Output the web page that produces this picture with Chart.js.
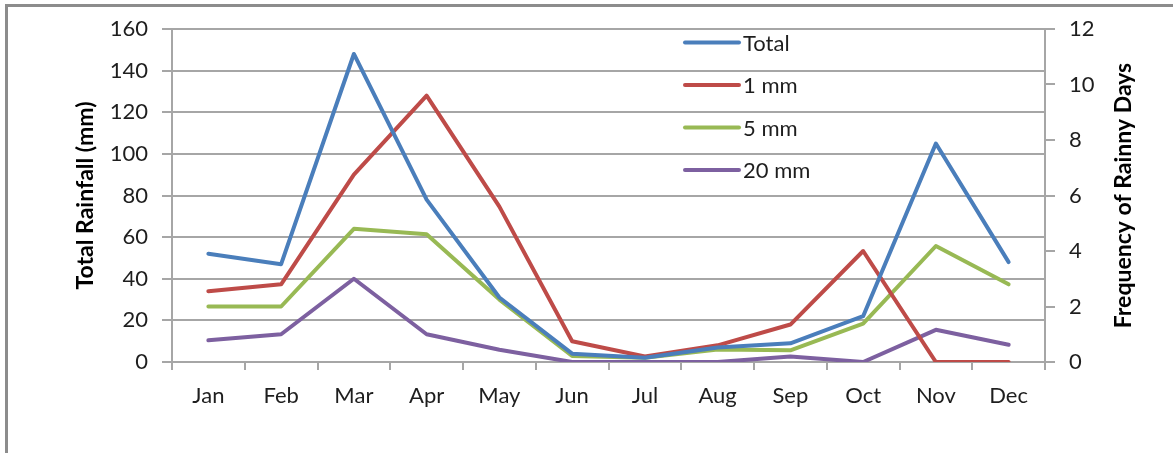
<!DOCTYPE html>
<html lang="en">
<head>
    <meta charset="UTF-8">
    <title>Total Rainfall and Frequency of Rainy Days</title>
    <script src="https://cdn.jsdelivr.net/npm/chart.js"></script>
    <style>
        html, body {
            margin: 0;
            padding: 0;
            background: #ffffff;
            overflow: hidden;
        }
        #wrap {
            position: relative;
            width: 1173px;
            height: 453px;
        }
        #frame {
            position: absolute;
            left: 5px;
            top: 4px;
            width: 1200px;
            height: 500px;
            border-left: 3px solid #8c8c8c;
            border-top: 3px solid #8c8c8c;
        }
        canvas {
            position: absolute;
            left: 0;
            top: 0;
        }
    </style>
</head>
<body>
<div id="wrap">
    <div id="frame"></div>
    <canvas id="rainChart" width="1173" height="453"></canvas>
</div>

<script>
    // data
    const months = ['Jan', 'Feb', 'Mar', 'Apr', 'May', 'Jun', 'Jul', 'Aug', 'Sep', 'Oct', 'Nov', 'Dec'];
    const totalRain = [52, 47, 148, 78, 31, 4, 2, 7, 9, 22, 105, 48];          // mm, left axis
    const days1mm   = [2.55, 2.8, 6.75, 9.6, 5.6, 0.75, 0.2, 0.6, 1.35, 4.0, 0, 0];   // right axis
    const days5mm   = [2.0, 2.0, 4.8, 4.6, 2.25, 0.22, 0.15, 0.45, 0.42, 1.38, 4.18, 2.8];
    const days20mm  = [0.78, 1.0, 3.0, 1.0, 0.44, 0, 0, 0, 0.2, 0, 1.16, 0.62];
    const leftTicks = [0, 20, 40, 60, 80, 100, 120, 140, 160];
    const rightTicks = [0, 2, 4, 6, 8, 10, 12];

    const leftTitle = 'Total Rainfall (mm)';
    const rightTitle = 'Frequency of Rainny Days';

    const FONT = 'Lato, "Open Sans", sans-serif';
    const gridCol = '#a6a6a6';
    const textCol = '#1e1e1e';

    // axis titles (right one reads bottom-to-top like the original)
    const axisTitles = {
        id: 'axisTitles',
        afterDraw(chart) {
            const ctx = chart.ctx;
            const area = chart.chartArea;
            const midY = (area.top + area.bottom) / 2;
            ctx.save();
            ctx.fillStyle = '#000';
            ctx.font = 'bold 23px ' + FONT;
            ctx.textAlign = 'center';
            ctx.textBaseline = 'middle';

            ctx.save();
            ctx.translate(86, midY);
            ctx.rotate(-Math.PI / 2);
            ctx.fillText(leftTitle, 0, 0);
            ctx.restore();

            ctx.save();
            ctx.translate(1124, midY);
            ctx.rotate(-Math.PI / 2);
            ctx.fillText(rightTitle, 0, 0);
            ctx.restore();
            ctx.restore();
        }
    };

    // legend drawn inside plot area, top right
    const insideLegend = {
        id: 'insideLegend',
        afterDraw(chart) {
            const ctx = chart.ctx;
            const x0 = 685, y0 = 42.5, gap = 42.5;
            ctx.save();
            ctx.font = '22px ' + FONT;
            ctx.textBaseline = 'middle';
            ctx.textAlign = 'left';
            chart.data.datasets.forEach((ds, i) => {
                const y = y0 + i * gap;
                ctx.strokeStyle = ds.borderColor;
                ctx.lineWidth = 4;
                ctx.lineCap = 'round';
                ctx.beginPath();
                ctx.moveTo(x0, y);
                ctx.lineTo(x0 + 54, y);
                ctx.stroke();
                ctx.fillStyle = textCol;
                ctx.fillText(ds.label, x0 + 58, y + 1);
            });
            ctx.restore();
        }
    };

    const ctx = document.getElementById('rainChart').getContext('2d');
    const rainChart = new Chart(ctx, {
        type: 'line',
        data: {
            labels: months,
            datasets: [
                { label: 'Total', data: totalRain, yAxisID: 'y', borderColor: '#4a7ebb' },
                { label: '1 mm', data: days1mm, yAxisID: 'y1', borderColor: '#be4b48' },
                { label: '5 mm', data: days5mm, yAxisID: 'y1', borderColor: '#98b954' },
                { label: '20 mm', data: days20mm, yAxisID: 'y1', borderColor: '#7d60a0' }
            ]
        },
        options: {
            responsive: false,
            animation: false,
            devicePixelRatio: 1,
            layout: { padding: { top: 29, left: 0, right: 0, bottom: 0 } },
            elements: {
                line: { borderWidth: 4, tension: 0, fill: false, borderJoinStyle: 'round', borderCapStyle: 'round' },
                point: { radius: 0, hoverRadius: 0 }
            },
            plugins: {
                legend: { display: false },
                tooltip: { enabled: false }
            },
            scales: {
                x: {
                    offset: true,
                    grid: {
                        offset: true,
                        drawOnChartArea: false,
                        drawTicks: true,
                        tickLength: 8,
                        color: gridCol,
                        lineWidth: 2
                    },
                    border: { color: gridCol, width: 2 },
                    ticks: {
                        color: textCol,
                        font: { family: FONT, size: 22 },
                        padding: 13,
                        maxRotation: 0
                    },
                    afterFit(scale) { scale.height = 91; }
                },
                y: {
                    position: 'left',
                    min: 0,
                    max: 160,
                    afterBuildTicks(scale) { scale.ticks = leftTicks.map(v => ({ value: v })); },
                    grid: {
                        color: gridCol,
                        lineWidth: 2,
                        tickLength: 10
                    },
                    border: { color: gridCol, width: 2 },
                    ticks: {
                        color: textCol,
                        font: { family: FONT, size: 22 },
                        padding: 14
                    },
                    afterFit(scale) { scale.width = 172; }
                },
                y1: {
                    position: 'right',
                    min: 0,
                    max: 12,
                    afterBuildTicks(scale) { scale.ticks = rightTicks.map(v => ({ value: v })); },
                    grid: {
                        drawOnChartArea: false,
                        color: gridCol,
                        lineWidth: 2,
                        tickLength: 10
                    },
                    border: { color: gridCol, width: 2 },
                    ticks: {
                        color: textCol,
                        font: { family: FONT, size: 22 },
                        padding: 14
                    },
                    afterFit(scale) { scale.width = 128; }
                }
            }
        },
        plugins: [axisTitles, insideLegend]
    });
</script>
</body>
</html>
